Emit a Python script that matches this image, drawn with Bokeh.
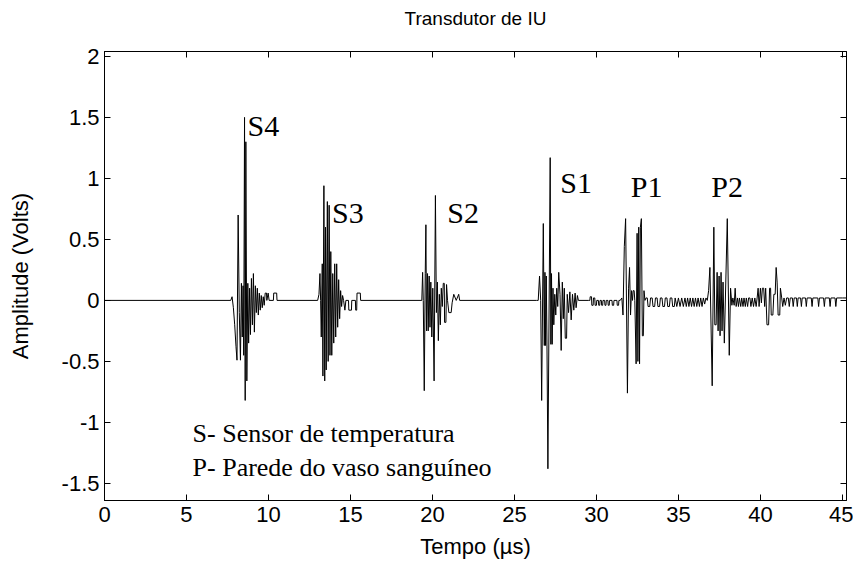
from bokeh.plotting import figure
from bokeh.models import Range1d, FixedTicker, LinearAxis, CustomJSTickFormatter
from bokeh.core.properties import value
from bokeh.embed import file_html
from bokeh.resources import INLINE

# ---------------- data ----------------
x_ticks = [0, 5, 10, 15, 20, 25, 30, 35, 40, 45]
x_tick_labels = ["0", "5", "10", "15", "20", "25", "30", "35", "40", "45"]
y_ticks = [-1.5, -1, -0.5, 0, 0.5, 1, 1.5, 2]
y_tick_labels = ["-1.5", "-1", "-0.5", "0", "0.5", "1", "1.5", "2"]

lead_t = [0.0, 7.70]
lead_v = [0.0, 0.0]

s4_t = [7.78, 7.86, 7.94, 8.02, 8.08, 8.15, 8.22, 8.29, 8.35, 8.40, 8.45, 8.49, 8.54, 8.58,
        8.62, 8.68, 8.74, 8.79, 8.85, 8.90, 8.96, 9.02, 9.08, 9.14, 9.20, 9.26, 9.32, 9.38,
        9.44, 9.50, 9.56, 9.62, 9.68, 9.74, 9.80, 9.88, 9.90, 9.98, 10.04, 10.30, 10.32,
        10.50, 10.52, 13.00]
s4_v = [0.03, -0.06, -0.20, -0.38, -0.49, 0.70, -0.10, -0.49, 0.14, -0.30, 0.12, -0.45, 1.50, -0.82,
        1.30, -0.66, 0.14, -0.35, 0.10, -0.28, 0.18, -0.20, 0.22, -0.26, 0.12, -0.10, 0.10, -0.12,
        0.06, -0.08, 0.04, -0.06, 0.03, -0.04, 0.06, 0.06, 0.0, 0.06, 0.0, 0.0, 0.06,
        0.06, 0.0, 0.0]

s3_t = [13.08, 13.14, 13.18, 13.22, 13.28, 13.32, 13.38, 13.43, 13.48, 13.52, 13.59, 13.64, 13.70,
        13.75, 13.80, 13.86, 13.92, 13.98, 14.04, 14.10, 14.16, 14.22, 14.28, 14.34, 14.40, 14.46,
        14.52, 14.58, 14.66, 14.72, 14.88, 14.90, 15.06, 15.08, 15.30, 15.32, 15.38, 15.40, 15.60,
        15.62, 19.35]
s3_v = [0.05, 0.22, 0.0, -0.30, 0.30, -0.62, 0.94, -0.66, 0.60, -0.57, 0.81, -0.50, 0.78,
        -0.45, 0.40, -0.45, 0.22, -0.35, 0.30, -0.30, 0.30, -0.22, 0.17, -0.15, 0.08, -0.05,
        0.04, 0.0, -0.08, 0.0, 0.0, -0.08, -0.08, 0.0, 0.0, -0.08, -0.08, 0.06, 0.06,
        0.0, 0.0]

s2_t = [19.40, 19.44, 19.50, 19.56, 19.60, 19.64, 19.70, 19.74, 19.80, 19.85, 19.90, 19.96, 20.02,
        20.10, 20.18, 20.24, 20.30, 20.36, 20.42, 20.48, 20.54, 20.60, 20.66, 20.72, 20.74, 20.82,
        20.86, 20.92, 21.00, 21.14, 21.20, 21.30, 21.45, 21.60, 21.66, 26.35]
s2_v = [0.23, 0.0, -0.74, 0.22, 0.62, -0.25, 0.22, -0.25, 0.20, -0.22, 0.15, -0.30, 0.10,
        -0.66, 0.86, -0.10, 0.15, -0.33, 0.05, -0.20, 0.10, -0.05, 0.14, 0.14, -0.18, -0.18,
        0.13, 0.0, -0.10, -0.10, -0.02, 0.05, 0.0, 0.05, 0.0, 0.0]

s1_t = [26.45, 26.53, 26.60, 26.66, 26.76, 26.82, 26.86, 26.90, 26.94, 26.98, 27.04, 27.18, 27.22,
        27.26, 27.30, 27.35, 27.40, 27.46, 27.52, 27.58, 27.64, 27.70, 27.78, 27.85, 27.92, 27.98,
        28.04, 28.10, 28.18, 28.22, 28.30, 28.38, 28.46, 28.54, 28.62, 28.70, 28.76, 28.84, 28.90,
        29.50]
s1_v = [0.0, 0.20, 0.0, -0.82, 0.63, -0.37, 0.23, -0.37, 0.20, -0.30, -1.38, 1.17, -0.36,
        0.22, -0.36, 0.10, -0.20, 0.05, -0.12, 0.10, -0.05, 0.23, 0.05, -0.41, 0.15, -0.15,
        0.10, -0.31, -0.31, 0.05, -0.10, 0.07, -0.16, 0.05, -0.08, 0.06, -0.06, 0.04, 0.0,
        0.0]

noise1_t = [29.60, 29.62, 29.70, 29.72, 29.80, 29.82, 29.90, 29.92, 30.00, 30.02, 30.12, 30.14,
            30.20, 30.22, 30.30, 30.32, 30.38, 30.40, 30.50, 30.52, 30.58, 30.60, 30.70, 30.72,
            30.78, 30.80, 30.95, 30.97, 31.05, 31.07, 31.25, 31.27, 31.35, 31.37, 31.45]
noise1_v = [0.0, 0.03, 0.03, -0.04, -0.04, 0.02, 0.02, -0.04, -0.04, 0.0, 0.0, -0.04,
            -0.04, 0.0, 0.0, -0.04, -0.04, 0.0, 0.0, -0.04, -0.04, 0.0, 0.0, -0.04,
            -0.04, 0.0, 0.0, -0.04, -0.04, 0.0, 0.0, -0.04, -0.04, 0.0, 0.0]

p1_t = [31.55, 31.62, 31.70, 31.78, 31.89, 31.96, 32.02, 32.08, 32.14, 32.20, 32.24, 32.30, 32.34,
        32.42, 32.48, 32.53, 32.58, 32.63, 32.68, 32.74, 32.80, 32.86, 32.90, 32.96, 33.02]
p1_v = [0.02, -0.12, 0.44, 0.67, -0.76, 0.10, 0.27, -0.12, 0.08, 0.0, 0.08, 0.08, 0.0,
        -0.52, 0.55, -0.50, 0.60, -0.52, 0.60, 0.67, -0.29, -0.29, 0.08, 0.0, 0.02]

noise2_t = [33.10, 33.15, 33.25, 33.30, 33.40, 33.45, 33.55, 33.60, 33.70, 33.75, 33.85, 33.90,
            34.00, 34.05, 34.15, 34.20, 34.30, 34.35, 34.45, 34.50, 34.60, 34.65, 34.75, 34.80,
            34.90, 35.00, 35.10, 35.20, 35.30, 35.40, 35.48, 35.56, 35.64, 35.72, 35.80, 35.88,
            35.96, 36.04, 36.12, 36.20, 36.28, 36.36, 36.44, 36.52, 36.60, 36.68, 36.76]
noise2_v = [0.02, -0.05, -0.05, 0.02, 0.02, -0.05, -0.05, 0.02, 0.02, -0.05, -0.05, 0.02,
            0.02, -0.05, -0.05, 0.02, 0.02, -0.05, -0.05, 0.02, 0.02, -0.05, -0.05, 0.02,
            -0.05, 0.02, -0.05, 0.02, -0.05, 0.02, -0.05, 0.02, -0.05, 0.02, -0.05, 0.02,
            -0.05, 0.02, -0.05, 0.02, -0.05, 0.02, -0.05, 0.02, -0.03, 0.02, 0.0]

p2_t = [36.84, 36.92, 37.06, 37.16, 37.22, 37.30, 37.36, 37.42, 37.48, 37.54, 37.60, 37.66, 37.72,
        37.80, 37.98, 38.10, 38.18, 38.26, 38.32, 38.40, 38.46, 38.52]
p2_v = [0.08, 0.27, -0.70, 0.60, -0.20, -0.20, 0.23, -0.25, 0.20, -0.29, 0.23, -0.25, 0.15,
        -0.35, 0.67, -0.45, 0.10, -0.04, 0.02, -0.04, 0.10, -0.05]

noise3_t = [38.60, 38.66, 38.72, 38.80, 38.86, 38.94, 39.00, 39.08, 39.14, 39.22, 39.28, 39.36,
            39.42, 39.50, 39.58, 39.66, 39.74, 39.80]
noise3_v = [0.02, -0.05, 0.02, -0.05, 0.02, -0.05, 0.02, -0.05, 0.02, -0.05, 0.02, 0.02,
            -0.05, 0.02, -0.05, 0.02, -0.05, 0.02]

b4_t = [39.86, 39.92, 40.00, 40.06, 40.12, 40.20, 40.26, 40.32, 40.40, 40.50, 40.56, 40.62, 40.66,
        40.76, 40.82, 40.90, 40.96, 41.02, 41.08, 41.18, 41.22, 41.30, 41.36, 41.44]
b4_v = [0.10, -0.05, 0.10, -0.02, 0.10, 0.10, -0.05, 0.10, -0.20, -0.20, 0.10, 0.10, -0.12,
        -0.12, 0.05, 0.05, 0.27, 0.15, -0.12, -0.12, 0.10, 0.02, -0.05, 0.02]

noise4_t = [41.52, 41.60, 41.70, 41.76, 41.82, 41.95, 42.00, 42.06, 42.20, 42.25, 42.30, 42.45,
            42.50, 42.55, 42.75, 42.80, 42.85, 43.10, 43.15, 43.20, 43.50, 43.55, 43.60, 43.85,
            43.90, 43.95, 44.20, 44.25, 44.30, 44.55, 44.60, 44.65, 45.00, 45.25]
noise4_v = [-0.04, 0.02, 0.02, -0.05, 0.02, 0.02, -0.05, 0.02, 0.02, -0.05, 0.02, 0.02,
            -0.05, 0.02, 0.02, -0.05, 0.02, 0.02, -0.05, 0.02, 0.02, -0.05, 0.02, 0.02,
            -0.05, 0.02, 0.02, -0.05, 0.02, 0.02, -0.05, 0.02, 0.02, 0.02]

# ---------------- assemble the trace ----------------
seg_t = [lead_t, s4_t, s3_t, s2_t, s1_t, noise1_t, p1_t, noise2_t, p2_t, noise3_t, b4_t, noise4_t]
seg_v = [lead_v, s4_v, s3_v, s2_v, s1_v, noise1_v, p1_v, noise2_v, p2_v, noise3_v, b4_v, noise4_v]
t = [x for s in seg_t for x in s]
v = [y for s in seg_v for y in s]

# ---------------- figure ----------------
SANS = "Liberation Sans"
SERIF = "Liberation Serif"

p = figure(width=853, height=574, output_backend="svg", toolbar_location=None,
           x_range=Range1d(0, 45.25), y_range=Range1d(-1.64, 2.04),
           min_border_left=104, min_border_right=7, min_border_top=51, min_border_bottom=74)
p.title_location = None
p.background_fill_color = "white"
p.border_fill_color = "white"
p.outline_line_color = "black"
p.outline_line_width = 1
p.xgrid.visible = False
p.ygrid.visible = False

p.line(t, v, line_color="black", line_width=1)

for ax in (p.xaxis[0], p.yaxis[0]):
    ax.major_tick_in = 6
    ax.major_tick_out = 0
    ax.minor_tick_line_color = None
    ax.axis_line_color = "black"
    ax.major_tick_line_color = "black"
    ax.major_label_text_font = SANS
    ax.major_label_text_font_size = "22px"
    ax.major_label_text_color = "black"
    ax.axis_label_text_font = SANS
    ax.axis_label_text_font_size = "22px"
    ax.axis_label_text_font_style = "normal"
    ax.axis_label_text_color = "black"

p.xaxis.ticker = FixedTicker(ticks=x_ticks)
p.xaxis.major_label_overrides = dict(zip(x_ticks, x_tick_labels))
p.xaxis.axis_label = "Tempo (\u00b5s)"
p.xaxis.major_label_standoff = 6
p.xaxis.axis_label_standoff = 9

p.yaxis.ticker = FixedTicker(ticks=y_ticks)
p.yaxis.major_label_overrides = dict(zip(y_ticks, y_tick_labels))
p.yaxis.axis_label = "Amplitude (Volts)"
p.yaxis.major_label_standoff = 5
p.yaxis.axis_label_standoff = 26

blank = CustomJSTickFormatter(code="return ''")
right = LinearAxis(ticker=FixedTicker(ticks=y_ticks), formatter=blank, major_tick_in=6,
                   major_tick_out=0, minor_tick_line_color=None, major_label_standoff=0,
                   axis_line_color="black", major_tick_line_color="black")
# top axis also carries the chart title as its axis label
top = LinearAxis(ticker=FixedTicker(ticks=x_ticks), formatter=blank, major_tick_in=6,
                 major_tick_out=0, minor_tick_line_color=None, major_label_standoff=0,
                 axis_line_color="black", major_tick_line_color="black",
                 axis_label="Transdutor de IU", axis_label_text_font=SANS,
                 axis_label_text_font_size="19px", axis_label_text_font_style="normal",
                 axis_label_text_color="black", axis_label_standoff=23)
p.add_layout(right, "right")
p.add_layout(top, "above")

# peak labels
p.text(x=[8.72, 13.88, 20.9, 27.8, 32.1, 37.0], y=[1.43, 0.72, 0.72, 0.97, 0.93, 0.93],
       text=["S4", "S3", "S2", "S1", "P1", "P2"], text_font=value(SERIF), text_font_size="30px",
       text_align="left", text_baseline="middle", text_color="black")

# legend-like notes
p.text(x=[5.37, 5.37], y=[-1.09, -1.37],
       text=["S- Sensor de temperatura", "P- Parede do vaso sangu\u00edneo"],
       text_font=value(SERIF), text_font_size="26px", text_align="left",
       text_baseline="alphabetic", text_color="black")

open("out.html", "w").write(file_html(p, INLINE))
